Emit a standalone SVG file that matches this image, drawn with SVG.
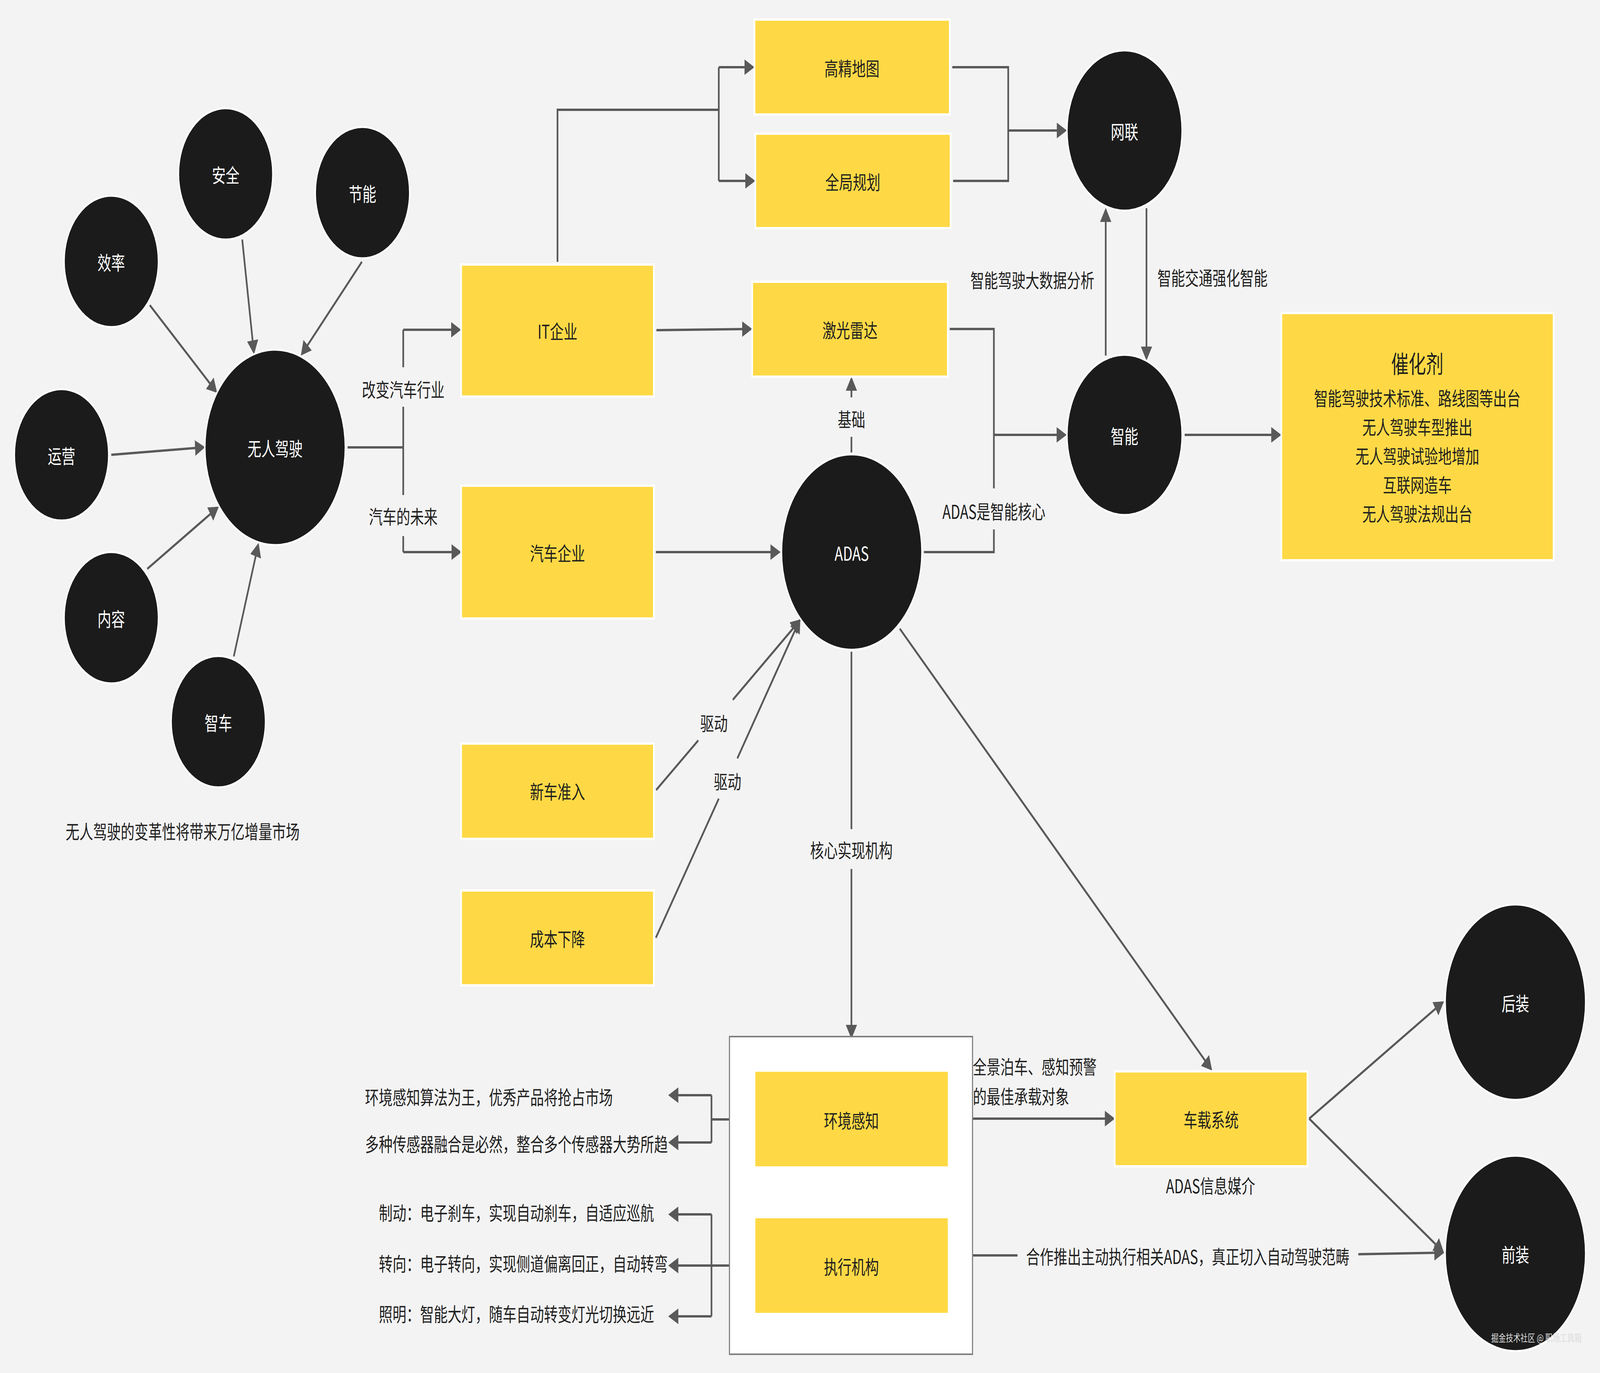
<svg xmlns="http://www.w3.org/2000/svg" width="5694" height="3514" viewBox="0 0 5694 3514" preserveAspectRatio="none">
<style>
svg{width:100vw;height:100vh}
.t{font-family:"Noto Sans CJK SC","Noto Sans",sans-serif;font-size:49px;fill:#1f1f1f;text-anchor:middle;dominant-baseline:central}
.w{fill:#ffffff}
.s{text-anchor:start}
.c{fill:#1b1b1b;stroke:#ffffff;stroke-width:5}
.b{fill:#FFD945;stroke:#ffffff;stroke-width:6}
.ln{fill:none;stroke:#595959;stroke-width:6}
.ar{fill:none;stroke:#595959;stroke-width:6;marker-end:url(#ah)}
</style>
<defs>
<marker id="ah" viewBox="0 0 36 40" refX="28" refY="20" markerWidth="36" markerHeight="40" markerUnits="userSpaceOnUse" orient="auto">
<path d="M0,0 L36,20 L0,40 z" fill="#595959"/>
</marker>
</defs>
<rect x="0" y="0" width="5694" height="3514" fill="#f3f3f3"/>

<g id="connectors">
<path class="ar" d="M533,781 L767,1000"/>
<path class="ar" d="M862,613 L903,899"/>
<path class="ar" d="M1288,670 L1076,904"/>
<path class="ar" d="M396,1164 L722,1145"/>
<path class="ar" d="M524,1456 L772,1301"/>
<path class="ar" d="M832,1680 L918,1397"/>
<path class="ln" d="M1237,1145 H1435 M1435,844 V940 M1435,1041 V1267 M1435,1372 V1413"/>
<path class="ar" d="M1435,844 H1633"/>
<path class="ar" d="M1435,1413 H1635"/>
<path class="ln" d="M1984,670 V281 H2558 M2558,172 V463"/>
<path class="ar" d="M2558,172 H2677"/>
<path class="ar" d="M2558,463 H2680"/>
<path class="ar" d="M2336,845 L2669,842"/>
<path class="ln" d="M3389,172 H3588 V463 H3392"/>
<path class="ar" d="M3588,334 H3789"/>
<path class="ln" d="M3380,842 H3537 V1250 M3537,1355 V1413 H3288"/>
<path class="ar" d="M3537,1113 H3788"/>
<path class="ar" d="M3935,910 V540"/>
<path class="ar" d="M4080,533 V915"/>
<path class="ar" d="M4216,1113 H4552"/>
<path class="ln" d="M3030,1158 V1118"/>
<path class="ar" d="M3030,1017 V972"/>
<path class="ar" d="M2334,1413 H2770"/>
<path class="ln" d="M2335,2022 L2485,1895"/>
<path class="ar" d="M2608,1791 L2844,1590"/>
<path class="ln" d="M2334,2400 L2558,2044"/>
<path class="ar" d="M2624,1941 L2844,1590"/>
<path class="ln" d="M3030,1668 V2122"/>
<path class="ar" d="M3030,2224 V2651"/>
<path class="ar" d="M3202,1609 L4308,2734"/>
<path class="ar" d="M3379,2863 H3960"/>
<path class="ln" d="M2682,2865 H2532 M2532,2803 V2924"/>
<path class="ar" d="M2532,2803 H2386"/>
<path class="ar" d="M2532,2924 H2386"/>
<path class="ar" d="M2682,3239 H2386"/>
<path class="ln" d="M2532,3108 V3369"/>
<path class="ar" d="M2532,3108 H2386"/>
<path class="ar" d="M2532,3369 H2386"/>
<path class="ln" d="M3460,3213 H3621"/>
<path class="ar" d="M4834,3210 L5132,3206"/>
<path class="ar" d="M4659,2863 L5132,2567"/>
<path class="ar" d="M4659,2863 L5132,3201"/>
</g>

<g id="edge-labels">
<text class="t" x="1435" y="994">改变汽车行业</text>
<text class="t" x="1435" y="1319">汽车的未来</text>
<text class="t" x="3674" y="714">智能驾驶大数据分析</text>
<text class="t" x="4315" y="708">智能交通强化智能</text>
<text class="t" x="3537" y="1306">ADAS是智能核心</text>
<text class="t" x="3030" y="1070">基础</text>
<text class="t" x="2541" y="1848">驱动</text>
<text class="t" x="2589" y="1997">驱动</text>
<text class="t" x="3030" y="2173">核心实现机构</text>
<text class="t s" x="3462" y="2727">全景泊车、感知预警</text>
<text class="t s" x="3462" y="2803">的最佳承载对象</text>
<text class="t" x="4227" y="3213">合作推出主动执行相关ADAS，真正切入自动驾驶范畴</text>
<text class="t s" x="1299" y="2805">环境感知算法为王，优秀产品将抢占市场</text>
<text class="t s" x="1299" y="2925">多种传感器融合是必然，整合多个传感器大势所趋</text>
<text class="t s" x="1348" y="3101">制动：电子刹车，实现自动刹车，自适应巡航</text>
<text class="t s" x="1348" y="3231">转向：电子转向，实现侧道偏离回正，自动转弯</text>
<text class="t s" x="1348" y="3360">照明：智能大灯，随车自动转变灯光切换远近</text>
<text class="t" x="650" y="2125">无人驾驶的变革性将带来万亿增量市场</text>
</g>

<g id="n-anquan"><circle class="c" cx="803" cy="445" r="168"/><text class="t w" x="803" y="445">安全</text></g>
<g id="n-jieneng"><circle class="c" cx="1290" cy="493" r="168"/><text class="t w" x="1290" y="493">节能</text></g>
<g id="n-xiaolv"><circle class="c" cx="396" cy="669" r="168"/><text class="t w" x="396" y="669">效率</text></g>
<g id="n-yunying"><circle class="c" cx="219" cy="1164" r="168"/><text class="t w" x="219" y="1164">运营</text></g>
<g id="n-neirong"><circle class="c" cx="396" cy="1581" r="168"/><text class="t w" x="396" y="1581">内容</text></g>
<g id="n-zhiche"><circle class="c" cx="777" cy="1847" r="168"/><text class="t w" x="777" y="1847">智车</text></g>
<g id="n-wurenjiashi"><circle class="c" cx="979" cy="1145" r="250"/><text class="t w" x="979" y="1145">无人驾驶</text></g>

<g id="n-it"><rect class="b" x="1641" y="677" width="686" height="338"/><text class="t" x="1984" y="845">IT企业</text></g>
<g id="n-qiche"><rect class="b" x="1641" y="1243" width="686" height="340"/><text class="t" x="1984" y="1413">汽车企业</text></g>
<g id="n-xinche"><rect class="b" x="1641" y="1903" width="686" height="244"/><text class="t" x="1984" y="2023">新车准入</text></g>
<g id="n-chengben"><rect class="b" x="1641" y="2279" width="686" height="243"/><text class="t" x="1984" y="2400">成本下降</text></g>
<g id="n-gaojing"><rect class="b" x="2685" y="50" width="695" height="243"/><text class="t" x="3032" y="172">高精地图</text></g>
<g id="n-quanju"><rect class="b" x="2688" y="342" width="695" height="242"/><text class="t" x="3035" y="463">全局规划</text></g>
<g id="n-jiguang"><rect class="b" x="2677" y="721" width="696" height="243"/><text class="t" x="3025" y="842">激光雷达</text></g>
<g id="n-wanglian"><circle class="c" cx="4002" cy="334" r="205"/><text class="t w" x="4002" y="334">网联</text></g>
<g id="n-zhineng"><circle class="c" cx="4002" cy="1113" r="205"/><text class="t w" x="4002" y="1113">智能</text></g>
<g id="n-cuihuaji"><rect class="b" x="4560" y="801" width="969" height="633"/>
<text class="t" x="5044" y="928" style="font-size:62px">催化剂</text>
<text class="t" x="5044" y="1016">智能驾驶技术标准、路线图等出台</text>
<text class="t" x="5044" y="1090">无人驾驶车型推出</text>
<text class="t" x="5044" y="1164">无人驾驶试验地增加</text>
<text class="t" x="5044" y="1238">互联网造车</text>
<text class="t" x="5044" y="1312">无人驾驶法规出台</text>
</g>
<g id="n-adas"><circle class="c" cx="3031" cy="1413" r="250"/><text class="t w" x="3031" y="1413">ADAS</text></g>

<g id="n-container"><rect x="2596" y="2653" width="865" height="813" fill="#ffffff" stroke="#808080" stroke-width="4"/></g>
<g id="n-huanjing"><rect x="2688" y="2743" width="685" height="242" fill="#FFD945"/><text class="t" x="3030" y="2865">环境感知</text></g>
<g id="n-zhixing"><rect x="2688" y="3118" width="685" height="242" fill="#FFD945"/><text class="t" x="3030" y="3239">执行机构</text></g>
<g id="n-chezai"><rect class="b" x="3967" y="2742" width="686" height="243"/><text class="t" x="4310" y="2863">车载系统</text><text class="t" x="4308" y="3032">ADAS信息媒介</text></g>
<g id="n-houzhuang"><circle class="c" cx="5393" cy="2565" r="250"/><text class="t w" x="5393" y="2565">后装</text></g>
<g id="n-qianzhuang"><circle class="c" cx="5393" cy="3208" r="250"/><text class="t w" x="5393" y="3208">前装</text></g>

<text class="t s" x="5307" y="3423" style="font-size:26px;fill:#dddddd">掘金技术社区 @ 职场工具箱</text>
</svg>
